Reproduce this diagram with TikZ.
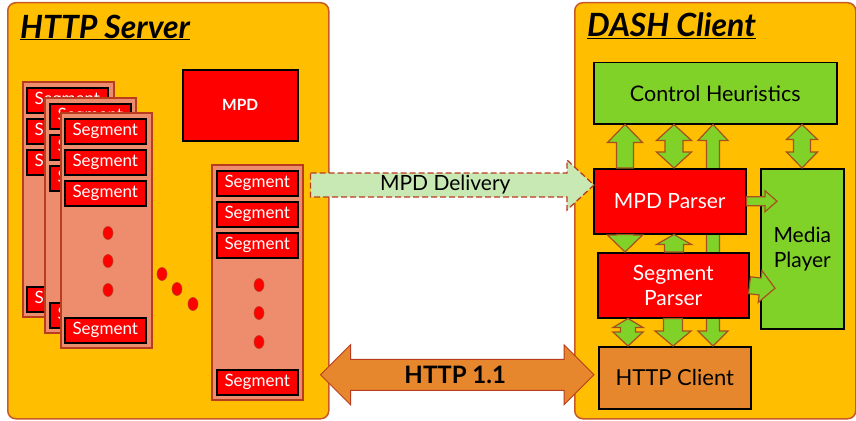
\documentclass[tikz,border=0pt]{standalone}
\usepackage{fontspec}
\setmainfont{Lato}
\usetikzlibrary{calc,shapes.geometric}
\definecolor{panelfill}{RGB}{255,190,0}
\definecolor{panelline}{RGB}{200,90,40}
\definecolor{docfill}{RGB}{238,140,110}
\definecolor{docline}{RGB}{185,60,30}
\definecolor{segred}{RGB}{255,0,0}
\definecolor{grn}{RGB}{128,210,40}
\definecolor{arrline}{RGB}{165,80,30}
\definecolor{lightgrn}{RGB}{200,232,180}
\definecolor{orng}{RGB}{230,135,45}
\newcommand{\blockarrow}[6][]{%
  \draw[#1] let \p1=(#2), \p2=(#3), \p3=($(\p2)!#6!(\p1)$) in
    ($(\p1)!#4!90:(\p2)$) -- ($(\p3)!#4!90:(\p2)$) -- ($(\p3)!#5!90:(\p2)$) -- (\p2)
    -- ($(\p3)!#5!-90:(\p2)$) -- ($(\p3)!#4!-90:(\p2)$) -- ($(\p1)!#4!-90:(\p2)$) -- cycle;}
\newcommand{\dblarrow}[7][]{%
  \draw[#1] let \p1=(#2), \p2=(#3), \p3=($(\p2)!#7!(\p1)$), \p4=($(\p1)!#6!(\p2)$) in
    (\p1) -- ($(\p4)!#5!90:(\p2)$) -- ($(\p4)!#4!90:(\p2)$) -- ($(\p3)!#4!90:(\p2)$)
    -- ($(\p3)!#5!90:(\p2)$) -- (\p2) -- ($(\p3)!#5!-90:(\p2)$) -- ($(\p3)!#4!-90:(\p2)$)
    -- ($(\p4)!#4!-90:(\p2)$) -- ($(\p4)!#5!-90:(\p2)$) -- cycle;}
\newcommand{\segdoc}[4]{%
  \node[docbox] (#1) at (#2,#3) {};
  \node[segbox] (#1s1) at ($(#1.north west)+(#4,6)$) {Segment};
  \node[segbox] (#1s2) at ($(#1.north west)+(#4,37)$) {Segment};
  \node[segbox] (#1s3) at ($(#1.north west)+(#4,68)$) {Segment};
  \node[segbox] (#1s4) at ($(#1.north west)+(#4,205)$) {Segment};
  \node[dotmark] (#1d1) at ($(#1.north west)+(48,121)$) {};
  \node[dotmark] (#1d2) at ($(#1.north west)+(48,149)$) {};
  \node[dotmark] (#1d3) at ($(#1.north west)+(48,178)$) {};}
\begin{document}
\begin{tikzpicture}[x=1pt,y=-1pt,
  panelbox/.style={draw=panelline,fill=panelfill,line width=1.5pt,rounded corners=8pt,anchor=north west},
  titletext/.style={anchor=base west,inner sep=0pt,font=\fontsize{32}{36}\selectfont\bfseries\itshape},
  docbox/.style={draw=docline,fill=docfill,line width=1.5pt,minimum width=91pt,minimum height=235pt,anchor=north west,inner sep=0pt},
  segbox/.style={draw=black,fill=segred,line width=1.5pt,minimum width=81pt,minimum height=25pt,anchor=north west,inner sep=0pt,text=white,font=\fontsize{17}{19}\selectfont},
  dotmark/.style={ellipse,draw=docline,fill=segred,line width=0.6pt,minimum width=10pt,minimum height=13pt,inner sep=0pt},
  blk/.style={draw=black,line width=1.5pt,anchor=north west,inner sep=0pt,align=center,font=\fontsize{21}{25}\selectfont},
  garrow/.style={draw=arrline,fill=grn,line width=1.2pt,line join=miter},
  lbl/.style={inner sep=0pt,font=\fontsize{21}{24}\selectfont}]
\useasboundingbox (0,0) rectangle (856,420);
\fill[white] (0,0) rectangle (856,420);
% panels
\node[panelbox,minimum width=321pt,minimum height=416pt] (server) at (7,2) {};
\node[panelbox,minimum width=281pt,minimum height=416pt] (client) at (574,2) {};
\node[titletext] (stitle) at (20,38) {\underline{HTTP Server}};
\node[titletext] (ctitle) at (587,37) {\underline{DASH Client}};
% server content
\segdoc{da}{22}{81}{4}
\segdoc{db}{44}{97}{5}
\segdoc{dc}{60}{112}{4}
\segdoc{dr}{211}{164}{5}
\node[dotmark] (m1) at (162,274) {};
\node[dotmark] (m2) at (177,289) {};
\node[dotmark] (m3) at (193,304) {};
\node[blk,fill=segred,text=white,minimum width=115pt,minimum height=71pt,font=\fontsize{15.5}{17}\selectfont\bfseries] (mpd) at (182,69) {MPD};
% client boxes
\node[blk,fill=grn,minimum width=243pt,minimum height=61pt,font=\fontsize{21.5}{25}\selectfont] (ch) at (593,62) {Control Heuristics};
\node[blk,fill=orng,minimum width=152pt,minimum height=62pt,font=\fontsize{22}{25}\selectfont] (hc) at (598,346) {HTTP Client};
\node[blk,fill=grn,minimum width=83pt,minimum height=160pt] (mp) at (760,168) {Media\\Player};
\coordinate (xa) at (625,0);
\coordinate (xb) at (674,0);
\coordinate (xc) at (713,0);
\coordinate (xd) at (802,0);
\coordinate (xe) at (628,0);
\coordinate (xf) at (673,0);
\dblarrow[garrow]{xc |- hc.north}{xc |- ch.south}{6.5pt}{15pt}{15pt}{16pt}
\node[blk,fill=segred,text=white,minimum width=152pt,minimum height=65pt] (mpdp) at (593,168) {MPD Parser};
\node[blk,fill=segred,text=white,minimum width=151pt,minimum height=65pt] (sp) at (597,252) {Segment\\Parser};
% client arrows
\blockarrow[garrow]{xa |- mpdp.north}{xa |- ch.south}{8.5pt}{17.5pt}{18pt}
\dblarrow[garrow]{xb |- mpdp.north}{xb |- ch.south}{9pt}{17.5pt}{16pt}{16pt}
\dblarrow[garrow]{xd |- mp.north}{xd |- ch.south}{8.5pt}{15.5pt}{16pt}{15pt}
\blockarrow[garrow]{xa |- mpdp.south}{xa |- sp.north}{8.5pt}{17.5pt}{17pt}
\blockarrow[garrow]{xb |- sp.north}{xb |- mpdp.south}{9.5pt}{17.5pt}{10pt}
\dblarrow[garrow]{xe |- sp.south}{xe |- hc.north}{7.5pt}{15pt}{9pt}{14pt}
\blockarrow[garrow]{xf |- sp.south}{xf |- hc.north}{9.5pt}{18pt}{15pt}
\blockarrow[garrow]{mpdp.east}{$(mp.west |- mpdp.east)+(17,0)$}{4.5pt}{10.5pt}{12pt}
\blockarrow[garrow]{sp.east}{$(mp.west |- sp.east)+(15,3)$}{8.5pt}{16pt}{15pt}
% between panels
\coordinate (mdtip) at ($(mpdp.north west)+(1,17)$);
\coordinate (mdstart) at ($(server.east |- mdtip)+(-19,0)$);
\blockarrow[draw=docline,fill=lightgrn,line width=1.3pt,dash pattern=on 6pt off 3pt]{mdstart}{mdtip}{12pt}{25pt}{27pt}
\node[lbl] (mdlbl) at ($(mdstart)!0.5!(mdtip)+(-7,0)$) {MPD Delivery};
\coordinate (htip) at ($(hc.west)+(-4,-3)$);
\coordinate (hstart) at ($(server.east |- htip)+(-9,0)$);
\dblarrow[draw=docline,fill=orng,line width=1pt]{hstart}{htip}{15.5pt}{30pt}{30pt}{30pt}
\node[lbl,font=\fontsize{24}{26}\selectfont\bfseries] (hlbl) at ($(hstart)!0.5!(htip)+(-2,0)$) {HTTP 1.1};
\end{tikzpicture}
\end{document}
